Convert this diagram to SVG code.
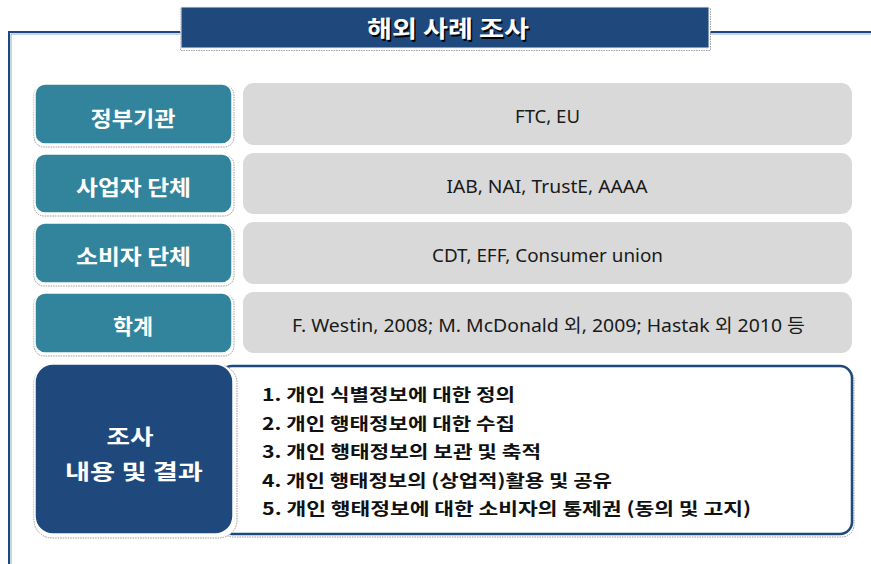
<svg xmlns="http://www.w3.org/2000/svg" width="871" height="564" viewBox="0 0 871 564">
<defs>
<style>
.frame{fill:none;stroke:#1F497D;stroke-width:2}
.frame2{fill:none;stroke:#8EA9C8;stroke-width:1}
.shadow{fill:#FFFFFF;stroke:#9A9A9A;stroke-width:1;stroke-dasharray:1.5 1}
.teal{fill:#31849B;stroke:#FFFFFF;stroke-width:1.5}
.grey{fill:#D9D9D9}
.navy{fill:#1F497D;stroke:#FFFFFF;stroke-width:1.5}
.lab{font-family:"Noto Sans CJK KR","Noto Sans",sans-serif;font-weight:bold;font-size:21px;fill:#FFFFFF;text-anchor:middle}
.val{font-family:"Noto Sans","Noto Sans CJK KR",sans-serif;font-size:18px;fill:#1A1A1A;text-anchor:middle}
.item{font-family:"Noto Sans CJK KR","Noto Sans",sans-serif;font-weight:bold;font-size:17.5px;fill:#111111}
.title{font-family:"Noto Sans CJK KR","Noto Sans",sans-serif;font-weight:bold;font-size:23px;fill:#FFFFFF;text-anchor:middle}
.titleSh{font-family:"Noto Sans CJK KR","Noto Sans",sans-serif;font-weight:bold;font-size:23px;fill:#000000;text-anchor:middle}
</style>
</defs>
<g id="frame">
<path class="frame" d="M9,564 V32 H181"/>
<path class="frame" d="M710,32 H871"/>
<path class="frame2" d="M11,564 V34 H181 M710,34 H871"/>
</g>
<g id="title">
<rect x="180.5" y="8.5" width="530" height="42" fill="none" stroke="#A0A0A0" stroke-width="1" stroke-dasharray="1.5 1"/>
<rect x="181" y="7" width="528" height="41" fill="#1F497D" stroke="#E8EEF5" stroke-width="1"/>
<text class="titleSh" x="449.5" y="38.5" textLength="162" lengthAdjust="spacingAndGlyphs">해외 사례 조사</text>
<text class="title" x="448" y="37" textLength="162" lengthAdjust="spacingAndGlyphs">해외 사례 조사</text>
</g>
<g id="row1">
<rect class="shadow" x="34" y="85" width="200" height="62" rx="10"/>
<rect class="teal" x="35" y="84" width="197" height="60" rx="10"/>
<text class="lab" x="133" y="126" textLength="85" lengthAdjust="spacingAndGlyphs">정부기관</text>
<rect class="grey" x="243" y="83" width="609" height="62" rx="11"/>
<text class="val" x="547.5" y="123" textLength="65" lengthAdjust="spacingAndGlyphs">FTC, EU</text>
</g>
<g id="row2">
<rect class="shadow" x="34" y="155" width="200" height="61" rx="10"/>
<rect class="teal" x="35" y="154" width="197" height="59" rx="10"/>
<text class="lab" x="133.5" y="195" textLength="115" lengthAdjust="spacingAndGlyphs">사업자 단체</text>
<rect class="grey" x="243" y="153" width="609" height="61" rx="11"/>
<text class="val" x="547" y="193" textLength="201" lengthAdjust="spacingAndGlyphs">IAB, NAI, TrustE, AAAA</text>
</g>
<g id="row3">
<rect class="shadow" x="34" y="224" width="200" height="62" rx="10"/>
<rect class="teal" x="35" y="223" width="197" height="60" rx="10"/>
<text class="lab" x="133.5" y="264" textLength="115" lengthAdjust="spacingAndGlyphs">소비자 단체</text>
<rect class="grey" x="243" y="222" width="609" height="62" rx="11"/>
<text class="val" x="547.5" y="262" textLength="231" lengthAdjust="spacingAndGlyphs">CDT, EFF, Consumer union</text>
</g>
<g id="row4">
<rect class="shadow" x="34" y="294" width="200" height="62" rx="10"/>
<rect class="teal" x="35" y="293" width="197" height="60" rx="10"/>
<text class="lab" x="133" y="334" textLength="40" lengthAdjust="spacingAndGlyphs">학계</text>
<rect class="grey" x="243" y="292" width="609" height="61" rx="11"/>
<text class="val" x="548.5" y="332" textLength="513" lengthAdjust="spacingAndGlyphs">F. Westin, 2008; M. McDonald 외, 2009; Hastak 외 2010 등</text>
</g>
<g id="results">
<rect x="221" y="368" width="633" height="169" rx="12" fill="none" stroke="#9A9A9A" stroke-width="1" stroke-dasharray="1.5 1"/>
<rect x="220" y="366" width="632" height="168" rx="12" fill="#FFFFFF" stroke="#1F497D" stroke-width="2.5"/>
<rect class="shadow" x="34" y="365" width="203" height="173" rx="18"/>
<rect class="navy" x="35" y="364" width="198" height="170" rx="18"/>
<text class="lab" x="130" y="444" textLength="47" lengthAdjust="spacingAndGlyphs">조사</text>
<text class="lab" x="134" y="479" textLength="138" lengthAdjust="spacingAndGlyphs">내용 및 결과</text>
<text class="item" x="262" y="401" textLength="253" lengthAdjust="spacingAndGlyphs">1. 개인 식별정보에 대한 정의</text>
<text class="item" x="262" y="430" textLength="253" lengthAdjust="spacingAndGlyphs">2. 개인 행태정보에 대한 수집</text>
<text class="item" x="262" y="458" textLength="279" lengthAdjust="spacingAndGlyphs">3. 개인 행태정보의 보관 및 축적</text>
<text class="item" x="262" y="487" textLength="350" lengthAdjust="spacingAndGlyphs">4. 개인 행태정보의 (상업적)활용 및 공유</text>
<text class="item" x="262" y="515" textLength="489" lengthAdjust="spacingAndGlyphs">5. 개인 행태정보에 대한 소비자의 통제권 (동의 및 고지)</text>
</g>
</svg>
